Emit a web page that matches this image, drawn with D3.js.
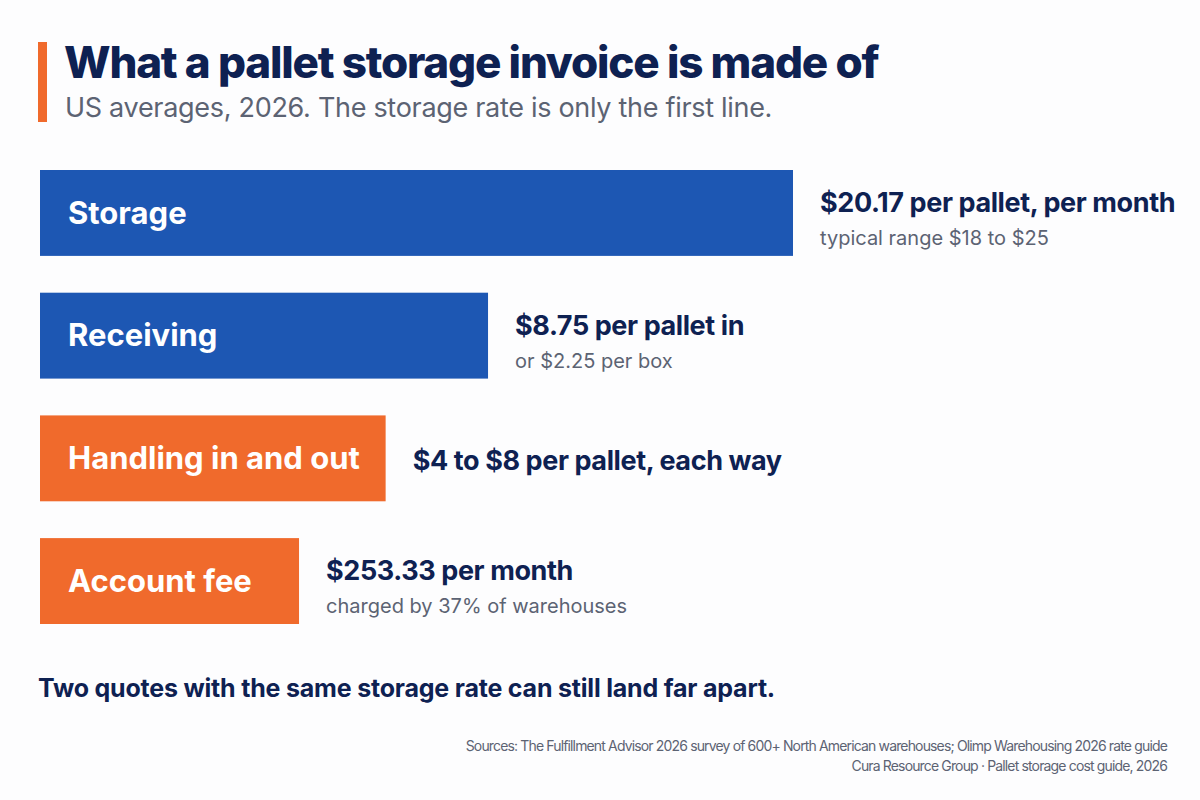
<!DOCTYPE html>
<html>
<head>
<meta charset="utf-8">
<script src="https://cdn.jsdelivr.net/npm/d3@7"></script>
<style>
  body { margin: 0; background: #fdfdfe; }
  svg { display: block; font-family: Inter, "Noto Sans", sans-serif; }
</style>
</head>
<body>
<svg id="chart" width="1200" height="800"></svg>
<script>
// invoice lines, top to bottom
const categories = ["Storage", "Receiving", "Handling in and out", "Account fee"];
// relative bar length as drawn (storage = 100)
const barLength = [100, 59.5, 45.9, 34.4];
const groupOf = ["core", "core", "fee", "fee"];
const valueLabels = [
    "$20.17 per pallet, per month",
    "$8.75 per pallet in",
    "$4 to $8 per pallet, each way",
    "$253.33 per month"
];
const noteLabels = [
    "typical range $18 to $25",
    "or $2.25 per box",
    "",
    "charged by 37% of warehouses"
];

const title = "What a pallet storage invoice is made of";
const subtitle = "US averages, 2026. The storage rate is only the first line.";
const takeaway = "Two quotes with the same storage rate can still land far apart.";
const sources = [
    "Sources: The Fulfillment Advisor 2026 survey of 600+ North American warehouses; Olimp Warehousing 2026 rate guide",
    "Cura Resource Group · Pallet storage cost guide, 2026"
];

let svg = d3.select("#chart");
let margin = {top: 170, right: 60, bottom: 176, left: 40};
let width = 753;

let x_scale = d3.scaleLinear()
    .domain([0, 100])
    .range([0, width]);

let y_scale = d3.scaleBand()
    .domain(categories)
    .range([0, 454])
    .paddingInner(0.3)
    .paddingOuter(0);

let color = d3.scaleOrdinal()
    .domain(["core", "fee"])
    .range(["#1d57b3", "#f06a2c"]);

// title block
svg.append("rect")
    .attr("x", 38).attr("y", 42)
    .attr("width", 9).attr("height", 80)
    .attr("fill", "#f06a2c");

svg.append("text")
    .attr("x", 64).attr("y", 78)
    .attr("font-size", "44px")
    .attr("font-weight", 800)
    .attr("letter-spacing", "-1.2px")
    .attr("fill", "#0e2152")
    .text(title);

svg.append("text")
    .attr("x", 65).attr("y", 117)
    .attr("font-size", "27px")
    .attr("letter-spacing", "-0.3px")
    .attr("fill", "#5c6373")
    .text(subtitle);

let g = svg.append("g")
    .attr("transform", `translate(${margin.left},${margin.top})`);

let rows = g.selectAll(".row")
    .data(categories)
    .enter().append("g")
    .attr("class", "row")
    .attr("transform", d => `translate(0,${y_scale(d)})`);

rows.append("rect")
    .attr("x", 0)
    .attr("width", (d, i) => x_scale(barLength[i]))
    .attr("height", y_scale.bandwidth())
    .attr("fill", (d, i) => color(groupOf[i]));

rows.append("text")
    .attr("x", 28)
    .attr("y", y_scale.bandwidth() / 2)
    .attr("dy", "0.35em")
    .attr("font-size", "31px")
    .attr("font-weight", 700)
    .attr("fill", "#ffffff")
    .text(d => d);

// value text right of each bar
rows.append("text")
    .attr("x", (d, i) => x_scale(barLength[i]) + 27)
    .attr("y", (d, i) => noteLabels[i] ? y_scale.bandwidth() / 2 - 1 : y_scale.bandwidth() / 2 + 12)
    .attr("font-size", "27px")
    .attr("font-weight", 700)
    .attr("letter-spacing", "-0.4px")
    .attr("fill", "#0e2152")
    .text((d, i) => valueLabels[i]);

rows.append("text")
    .attr("x", (d, i) => x_scale(barLength[i]) + 27)
    .attr("y", y_scale.bandwidth() / 2 + 32)
    .attr("font-size", "20px")
    .attr("fill", "#5c6373")
    .text((d, i) => noteLabels[i]);

// takeaway + sources
svg.append("text")
    .attr("x", 38).attr("y", 697)
    .attr("font-size", "25px")
    .attr("font-weight", 700)
    .attr("letter-spacing", "-0.2px")
    .attr("fill", "#0e2152")
    .text(takeaway);

svg.selectAll(".src")
    .data(sources)
    .enter().append("text")
    .attr("class", "src")
    .attr("x", 1167)
    .attr("y", (d, i) => 751 + i * 20)
    .attr("text-anchor", "end")
    .attr("font-size", "14px")
    .attr("letter-spacing", "-0.85px")
    .attr("fill", "#5c6373")
    .text(d => d);
</script>
</body>
</html>
